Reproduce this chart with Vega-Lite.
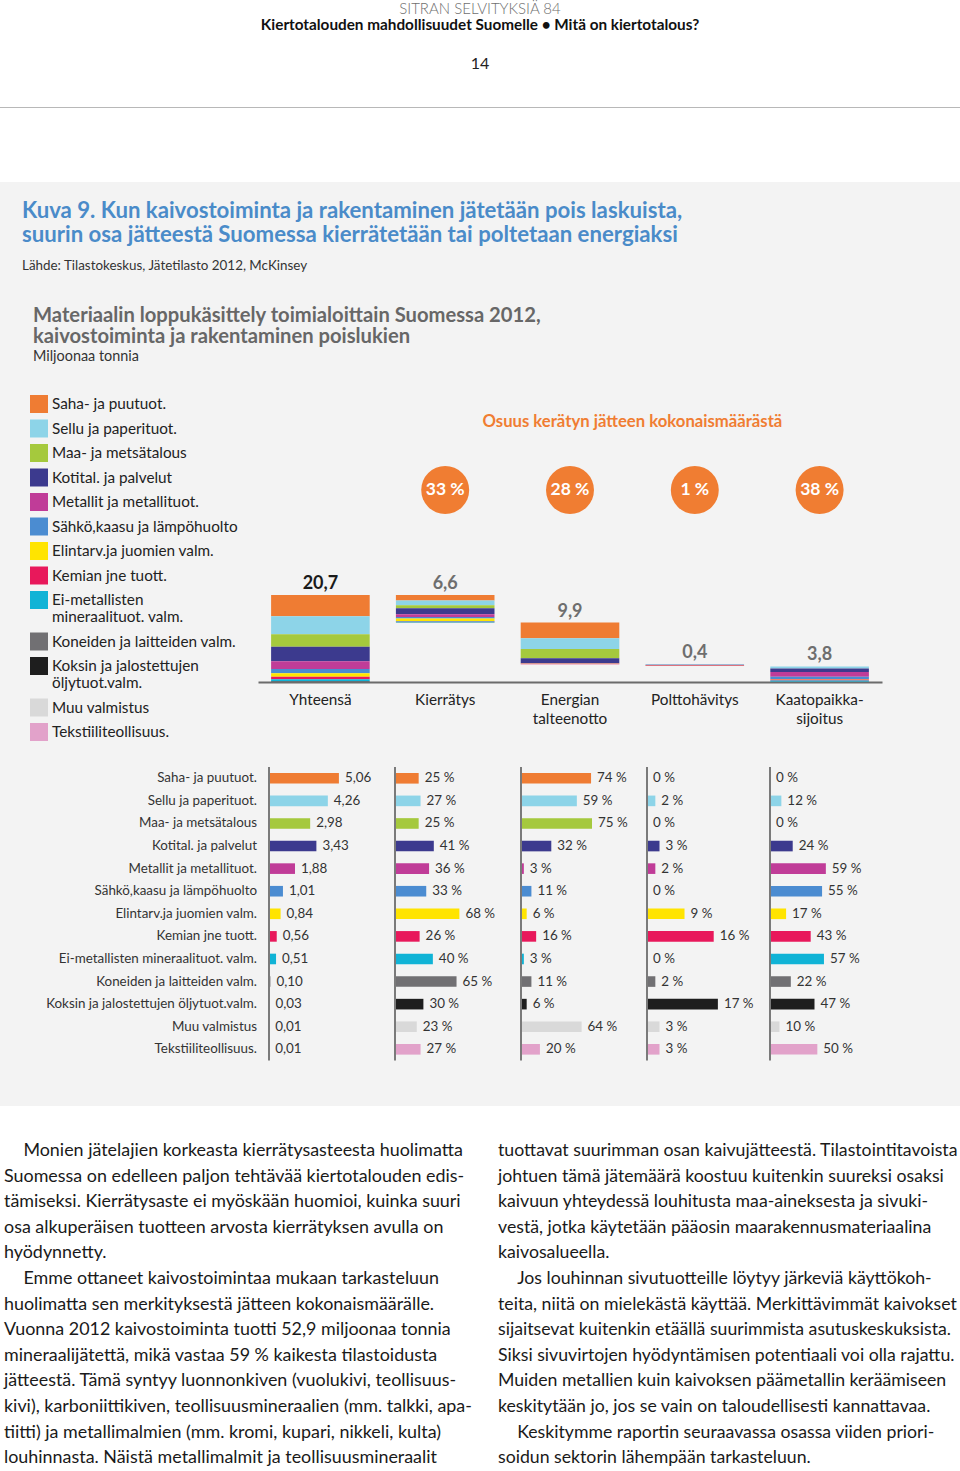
{
  "$schema": "https://vega.github.io/schema/vega-lite/v6.json",
  "background": "#f3f3f3",
  "padding": 0,
  "spacing": 0,
  "bounds": "flush",
  "resolve": {"scale": {"color": "independent"}, "legend": {"color": "independent"}},
  "config": {
    "font": "Lato",
    "view": {"stroke": null},
    "locale": {"number": {"decimal": ",", "thousands": " ", "grouping": [3], "currency": ["", " €"], "percent": " %"}},
    "title": {"font": "Lato"},
    "axis": {"labelFont": "Lato"},
    "legend": {"labelFont": "Lato"}
  },
  "datasets": {
    "teollisuus": [
      {"toimiala": "Saha- ja puutuot.", "yhteensa": 5.06, "kierratys": 0.25, "energia": 0.74, "poltto": 0.0, "kaatopaikka": 0.0},
      {"toimiala": "Sellu ja paperituot.", "yhteensa": 4.26, "kierratys": 0.27, "energia": 0.59, "poltto": 0.02, "kaatopaikka": 0.12},
      {"toimiala": "Maa- ja metsätalous", "yhteensa": 2.98, "kierratys": 0.25, "energia": 0.75, "poltto": 0.0, "kaatopaikka": 0.0},
      {"toimiala": "Kotital. ja palvelut", "yhteensa": 3.43, "kierratys": 0.41, "energia": 0.32, "poltto": 0.03, "kaatopaikka": 0.24},
      {"toimiala": "Metallit ja metallituot.", "yhteensa": 1.88, "kierratys": 0.36, "energia": 0.03, "poltto": 0.02, "kaatopaikka": 0.59},
      {"toimiala": "Sähkö,kaasu ja lämpöhuolto", "yhteensa": 1.01, "kierratys": 0.33, "energia": 0.11, "poltto": 0.0, "kaatopaikka": 0.55},
      {"toimiala": "Elintarv.ja juomien valm.", "yhteensa": 0.84, "kierratys": 0.68, "energia": 0.06, "poltto": 0.09, "kaatopaikka": 0.17},
      {"toimiala": "Kemian jne tuott.", "yhteensa": 0.56, "kierratys": 0.26, "energia": 0.16, "poltto": 0.16, "kaatopaikka": 0.43},
      {"toimiala": "Ei-metallisten mineraalituot. valm.", "yhteensa": 0.51, "kierratys": 0.40, "energia": 0.03, "poltto": 0.0, "kaatopaikka": 0.57},
      {"toimiala": "Koneiden ja laitteiden valm.", "yhteensa": 0.10, "kierratys": 0.65, "energia": 0.11, "poltto": 0.02, "kaatopaikka": 0.22},
      {"toimiala": "Koksin ja jalostettujen öljytuot.valm.", "yhteensa": 0.03, "kierratys": 0.30, "energia": 0.06, "poltto": 0.17, "kaatopaikka": 0.47},
      {"toimiala": "Muu valmistus", "yhteensa": 0.01, "kierratys": 0.23, "energia": 0.64, "poltto": 0.03, "kaatopaikka": 0.10},
      {"toimiala": "Tekstiiliteollisuus.", "yhteensa": 0.01, "kierratys": 0.27, "energia": 0.20, "poltto": 0.03, "kaatopaikka": 0.50}
    ],
    "segmentit": [
      {"vaihe": "Yhteensä", "toimiala": "Saha- ja puutuot.", "maara": 5.06, "nro": 1},
      {"vaihe": "Yhteensä", "toimiala": "Sellu ja paperituot.", "maara": 4.26, "nro": 2},
      {"vaihe": "Yhteensä", "toimiala": "Maa- ja metsätalous", "maara": 2.98, "nro": 3},
      {"vaihe": "Yhteensä", "toimiala": "Kotital. ja palvelut", "maara": 3.43, "nro": 4},
      {"vaihe": "Yhteensä", "toimiala": "Metallit ja metallituot.", "maara": 1.88, "nro": 5},
      {"vaihe": "Yhteensä", "toimiala": "Sähkö,kaasu ja lämpöhuolto", "maara": 1.01, "nro": 6},
      {"vaihe": "Yhteensä", "toimiala": "Elintarv.ja juomien valm.", "maara": 0.84, "nro": 7},
      {"vaihe": "Yhteensä", "toimiala": "Kemian jne tuott.", "maara": 0.56, "nro": 8},
      {"vaihe": "Yhteensä", "toimiala": "Ei-metallisten mineraalituot. valm.", "maara": 0.51, "nro": 9},
      {"vaihe": "Yhteensä", "toimiala": "Koneiden ja laitteiden valm.", "maara": 0.10, "nro": 10},
      {"vaihe": "Yhteensä", "toimiala": "Koksin ja jalostettujen öljytuot.valm.", "maara": 0.03, "nro": 11},
      {"vaihe": "Yhteensä", "toimiala": "Muu valmistus", "maara": 0.01, "nro": 12},
      {"vaihe": "Yhteensä", "toimiala": "Tekstiiliteollisuus.", "maara": 0.01, "nro": 13},
      {"vaihe": "Kierrätys", "toimiala": "pohja", "maara": 14.1, "nro": 14},
      {"vaihe": "Kierrätys", "toimiala": "Saha- ja puutuot.", "maara": 1.265, "nro": 1},
      {"vaihe": "Kierrätys", "toimiala": "Sellu ja paperituot.", "maara": 1.150, "nro": 2},
      {"vaihe": "Kierrätys", "toimiala": "Maa- ja metsätalous", "maara": 0.745, "nro": 3},
      {"vaihe": "Kierrätys", "toimiala": "Kotital. ja palvelut", "maara": 1.406, "nro": 4},
      {"vaihe": "Kierrätys", "toimiala": "Metallit ja metallituot.", "maara": 0.677, "nro": 5},
      {"vaihe": "Kierrätys", "toimiala": "Sähkö,kaasu ja lämpöhuolto", "maara": 0.333, "nro": 6},
      {"vaihe": "Kierrätys", "toimiala": "Elintarv.ja juomien valm.", "maara": 0.571, "nro": 7},
      {"vaihe": "Kierrätys", "toimiala": "Kemian jne tuott.", "maara": 0.146, "nro": 8},
      {"vaihe": "Kierrätys", "toimiala": "Ei-metallisten mineraalituot. valm.", "maara": 0.204, "nro": 9},
      {"vaihe": "Kierrätys", "toimiala": "Koneiden ja laitteiden valm.", "maara": 0.065, "nro": 10},
      {"vaihe": "Kierrätys", "toimiala": "Koksin ja jalostettujen öljytuot.valm.", "maara": 0.009, "nro": 11},
      {"vaihe": "Kierrätys", "toimiala": "Muu valmistus", "maara": 0.002, "nro": 12},
      {"vaihe": "Kierrätys", "toimiala": "Tekstiiliteollisuus.", "maara": 0.003, "nro": 13},
      {"vaihe": "Energian talteenotto", "toimiala": "pohja", "maara": 4.2, "nro": 14},
      {"vaihe": "Energian talteenotto", "toimiala": "Saha- ja puutuot.", "maara": 3.744, "nro": 1},
      {"vaihe": "Energian talteenotto", "toimiala": "Sellu ja paperituot.", "maara": 2.513, "nro": 2},
      {"vaihe": "Energian talteenotto", "toimiala": "Maa- ja metsätalous", "maara": 2.235, "nro": 3},
      {"vaihe": "Energian talteenotto", "toimiala": "Kotital. ja palvelut", "maara": 1.098, "nro": 4},
      {"vaihe": "Energian talteenotto", "toimiala": "Metallit ja metallituot.", "maara": 0.056, "nro": 5},
      {"vaihe": "Energian talteenotto", "toimiala": "Sähkö,kaasu ja lämpöhuolto", "maara": 0.111, "nro": 6},
      {"vaihe": "Energian talteenotto", "toimiala": "Elintarv.ja juomien valm.", "maara": 0.050, "nro": 7},
      {"vaihe": "Energian talteenotto", "toimiala": "Kemian jne tuott.", "maara": 0.090, "nro": 8},
      {"vaihe": "Energian talteenotto", "toimiala": "Ei-metallisten mineraalituot. valm.", "maara": 0.015, "nro": 9},
      {"vaihe": "Energian talteenotto", "toimiala": "Koneiden ja laitteiden valm.", "maara": 0.011, "nro": 10},
      {"vaihe": "Energian talteenotto", "toimiala": "Koksin ja jalostettujen öljytuot.valm.", "maara": 0.002, "nro": 11},
      {"vaihe": "Energian talteenotto", "toimiala": "Muu valmistus", "maara": 0.006, "nro": 12},
      {"vaihe": "Energian talteenotto", "toimiala": "Tekstiiliteollisuus.", "maara": 0.002, "nro": 13},
      {"vaihe": "Polttohävitys", "toimiala": "pohja", "maara": 3.8, "nro": 14},
      {"vaihe": "Polttohävitys", "toimiala": "Sellu ja paperituot.", "maara": 0.085, "nro": 2},
      {"vaihe": "Polttohävitys", "toimiala": "Kotital. ja palvelut", "maara": 0.103, "nro": 4},
      {"vaihe": "Polttohävitys", "toimiala": "Metallit ja metallituot.", "maara": 0.038, "nro": 5},
      {"vaihe": "Polttohävitys", "toimiala": "Elintarv.ja juomien valm.", "maara": 0.076, "nro": 7},
      {"vaihe": "Polttohävitys", "toimiala": "Kemian jne tuott.", "maara": 0.090, "nro": 8},
      {"vaihe": "Polttohävitys", "toimiala": "Koneiden ja laitteiden valm.", "maara": 0.002, "nro": 10},
      {"vaihe": "Polttohävitys", "toimiala": "Koksin ja jalostettujen öljytuot.valm.", "maara": 0.005, "nro": 11},
      {"vaihe": "Kaatopaikka-sijoitus", "toimiala": "Sellu ja paperituot.", "maara": 0.511, "nro": 2},
      {"vaihe": "Kaatopaikka-sijoitus", "toimiala": "Kotital. ja palvelut", "maara": 0.823, "nro": 4},
      {"vaihe": "Kaatopaikka-sijoitus", "toimiala": "Metallit ja metallituot.", "maara": 1.109, "nro": 5},
      {"vaihe": "Kaatopaikka-sijoitus", "toimiala": "Sähkö,kaasu ja lämpöhuolto", "maara": 0.556, "nro": 6},
      {"vaihe": "Kaatopaikka-sijoitus", "toimiala": "Elintarv.ja juomien valm.", "maara": 0.143, "nro": 7},
      {"vaihe": "Kaatopaikka-sijoitus", "toimiala": "Kemian jne tuott.", "maara": 0.241, "nro": 8},
      {"vaihe": "Kaatopaikka-sijoitus", "toimiala": "Ei-metallisten mineraalituot. valm.", "maara": 0.291, "nro": 9},
      {"vaihe": "Kaatopaikka-sijoitus", "toimiala": "Koneiden ja laitteiden valm.", "maara": 0.022, "nro": 10},
      {"vaihe": "Kaatopaikka-sijoitus", "toimiala": "Koksin ja jalostettujen öljytuot.valm.", "maara": 0.014, "nro": 11},
      {"vaihe": "Kaatopaikka-sijoitus", "toimiala": "Muu valmistus", "maara": 0.001, "nro": 12},
      {"vaihe": "Kaatopaikka-sijoitus", "toimiala": "Tekstiiliteollisuus.", "maara": 0.005, "nro": 13}
    ],
    "vaiheet": [
      {"vaihe": "Yhteensä", "yhteensa": 20.7, "huippu": 20.7, "osuus": null},
      {"vaihe": "Kierrätys", "yhteensa": 6.6, "huippu": 20.7, "osuus": 0.33},
      {"vaihe": "Energian talteenotto", "yhteensa": 9.9, "huippu": 14.1, "osuus": 0.28},
      {"vaihe": "Polttohävitys", "yhteensa": 0.4, "huippu": 4.2, "osuus": 0.01},
      {"vaihe": "Kaatopaikka-sijoitus", "yhteensa": 3.8, "huippu": 3.8, "osuus": 0.38}
    ]
  },
  "vconcat": [
    {
      "width": 960, "height": 45,
      "view": {"fill": "#ffffff", "stroke": null},
      "data": {"values": []}, "mark": "rect", "encoding": {},
      "title": {"text": "SITRAN SELVITYKSIÄ 84", "subtitle": "Kiertotalouden mahdollisuudet Suomelle • Mitä on kiertotalous?", "orient": "bottom", "anchor": "middle", "frame": "group", "offset": -43, "fontSize": 15, "fontWeight": 300, "color": "#6f6f6f", "subtitleFontSize": 15.3, "subtitleFontWeight": "bold", "subtitleColor": "#111111", "subtitlePadding": 1}
    },
    {
      "width": 960, "height": 62,
      "view": {"fill": "#ffffff", "stroke": null},
      "data": {"values": []}, "mark": "rect", "encoding": {},
      "title": {"text": "14", "orient": "bottom", "anchor": "middle", "frame": "group", "offset": -51, "fontSize": 16, "fontWeight": "normal", "color": "#222222"}
    },
    {
      "width": 960, "height": 1,
      "view": {"fill": "#b8b8b8", "stroke": null},
      "data": {"values": []}, "mark": "rect", "encoding": {}
    },
    {
      "width": 960, "height": 74,
      "view": {"fill": "#ffffff", "stroke": null},
      "data": {"values": []}, "mark": "rect", "encoding": {}
    },
    {
      "width": 960, "height": 108,
      "data": {"values": []}, "mark": "rect", "encoding": {},
      "title": {"text": ["Kuva 9. Kun kaivostoiminta ja rakentaminen jätetään pois laskuista,", "suurin osa jätteestä Suomessa kierrätetään tai poltetaan energiaksi"], "subtitle": "Lähde: Tilastokeskus, Jätetilasto 2012, McKinsey", "orient": "bottom", "anchor": "start", "frame": "group", "offset": -90, "dx": 22, "fontSize": 22.2, "fontWeight": "bold", "color": "#4a8bc9", "lineHeight": 24.3, "subtitleFontSize": 13.4, "subtitleColor": "#333333", "subtitlePadding": 12}
    },
    {
      "width": 960, "height": 75,
      "data": {"values": []}, "mark": "rect", "encoding": {},
      "title": {"text": ["Materiaalin loppukäsittely toimialoittain Suomessa 2012,", "kaivostoiminta ja rakentaminen poislukien"], "subtitle": "Miljoonaa tonnia", "orient": "bottom", "anchor": "start", "frame": "group", "offset": -59, "dx": 33, "fontSize": 20.2, "fontWeight": "bold", "color": "#676767", "lineHeight": 21, "subtitleFontSize": 14.4, "subtitleColor": "#333333", "subtitlePadding": 3}
    },
    {
      "width": 960, "height": 317,
      "encoding": {
        "x": {"field": "vaihe", "type": "nominal",
          "scale": {"domain": ["Yhteensä", "Kierrätys", "Energian talteenotto", "Polttohävitys", "Kaatopaikka-sijoitus"], "range": [258, 882], "paddingInner": 0, "paddingOuter": 0},
          "axis": {"title": null, "ticks": false, "domainColor": "#6b6b6b", "domainWidth": 2, "labelFontSize": 15.3, "labelColor": "#222222", "labelPadding": 10, "labelAngle": 0, "labelLineHeight": 19,
            "labelExpr": "datum.label === 'Energian talteenotto' ? ['Energian', 'talteenotto'] : datum.label === 'Kaatopaikka-sijoitus' ? ['Kaatopaikka-', 'sijoitus'] : datum.label"}}
      },
      "layer": [
        {
          "data": {"name": "segmentit"},
          "mark": {"type": "bar", "width": {"band": 0.79}},
          "encoding": {
            "y": {"field": "maara", "type": "quantitative", "stack": "zero", "scale": {"domain": [0, 75.4], "nice": false}, "axis": null},
            "color": {
              "condition": {"test": "datum.toimiala === 'pohja'", "value": "transparent"},
              "field": "toimiala", "type": "nominal",
              "scale": {
                "domain": ["Saha- ja puutuot.", "Sellu ja paperituot.", "Maa- ja metsätalous", "Kotital. ja palvelut", "Metallit ja metallituot.", "Sähkö,kaasu ja lämpöhuolto", "Elintarv.ja juomien valm.", "Kemian jne tuott.", "Ei-metallisten mineraalituot. valm.", "Koneiden ja laitteiden valm.", "Koksin ja jalostettujen öljytuot.valm.", "Muu valmistus", "Tekstiiliteollisuus."],
                "range": ["#ef7c33", "#8dd4e8", "#a5c93d", "#3c3a8e", "#c03c98", "#4b8cd1", "#ffe400", "#e8185b", "#10b3d6", "#717073", "#1e1e1e", "#d9d9d9", "#e2a2ca"]
              },
              "legend": {
                "orient": "top-left", "direction": "vertical", "offset": 30, "title": null, "symbolType": "square", "symbolSize": 324, "symbolStrokeWidth": 0, "symbolOpacity": 1,
                "labelFontSize": 15.3, "labelColor": "#222222", "labelOffset": 4, "labelLimit": 320, "rowPadding": 6.5,
                "values": ["Saha- ja puutuot.", "Sellu ja paperituot.", "Maa- ja metsätalous", "Kotital. ja palvelut", "Metallit ja metallituot.", "Sähkö,kaasu ja lämpöhuolto", "Elintarv.ja juomien valm.", "Kemian jne tuott.", "Ei-metallisten mineraalituot. valm.", "Koneiden ja laitteiden valm.", "Koksin ja jalostettujen öljytuot.valm.", "Muu valmistus", "Tekstiiliteollisuus."],
                "labelExpr": "datum.label === 'Ei-metallisten mineraalituot. valm.' ? ['Ei-metallisten', 'mineraalituot. valm.'] : datum.label === 'Koksin ja jalostettujen öljytuot.valm.' ? ['Koksin ja jalostettujen', 'öljytuot.valm.'] : datum.label"
              }
            },
            "order": {"field": "nro", "type": "quantitative", "sort": "descending"}
          }
        },
        {
          "data": {"name": "vaiheet"},
          "mark": {"type": "text", "baseline": "alphabetic", "dy": -6, "fontSize": 18, "fontWeight": "bold"},
          "encoding": {
            "y": {"field": "huippu", "type": "quantitative"},
            "text": {"field": "yhteensa", "type": "quantitative", "format": ".1f"},
            "color": {"condition": {"test": "datum.vaihe === 'Yhteensä'", "value": "#1a1a1a"}, "value": "#6e6e6e"}
          }
        },
        {
          "data": {"name": "vaiheet"},
          "transform": [{"filter": "isValid(datum.osuus)"}],
          "mark": {"type": "circle", "size": 2300, "opacity": 1, "color": "#f07d32"},
          "encoding": {"y": {"datum": 45.67, "type": "quantitative"}}
        },
        {
          "data": {"name": "vaiheet"},
          "transform": [{"filter": "isValid(datum.osuus)"}],
          "mark": {"type": "text", "color": "#ffffff", "fontWeight": "bold", "fontSize": 17.5},
          "encoding": {
            "y": {"datum": 45.67, "type": "quantitative"},
            "text": {"field": "osuus", "type": "quantitative", "format": ".0%"}
          }
        },
        {
          "data": {"values": [{"otsikko": "Osuus kerätyn jätteen kokonaismäärästä"}]},
          "mark": {"type": "text", "color": "#f07d32", "fontWeight": "bold", "fontSize": 16.7},
          "encoding": {
            "x": {"datum": "Energian talteenotto", "type": "nominal", "bandPosition": 1},
            "y": {"datum": 61.85, "type": "quantitative"},
            "text": {"field": "otsikko", "type": "nominal"}
          }
        }
      ]
    },
    {"width": 960, "height": 85, "data": {"values": []}, "mark": "rect", "encoding": {}},
    {
      "width": 960, "height": 293.6,
      "data": {"name": "teollisuus"},
      "transform": [{"joinaggregate": [{"op": "min", "field": "poltto", "as": "alku"}]}],
      "resolve": {"scale": {"x": "independent"}, "axis": {"x": "independent"}},
      "layer": [
        {"mark": {"type": "bar"}, "encoding": {
          "x": {"field": "yhteensa", "type": "quantitative", "scale": {"domain": [0, 8.36], "range": [269, 384.5], "nice": false}, "axis": null},
          "y": {"field": "toimiala", "type": "nominal", "sort": null, "scale": {"paddingInner": 0.53, "paddingOuter": 0.265}, "axis": null},
          "color": {"field": "toimiala", "type": "nominal", "legend": null,
            "scale": {"domain": ["Saha- ja puutuot.", "Sellu ja paperituot.", "Maa- ja metsätalous", "Kotital. ja palvelut", "Metallit ja metallituot.", "Sähkö,kaasu ja lämpöhuolto", "Elintarv.ja juomien valm.", "Kemian jne tuott.", "Ei-metallisten mineraalituot. valm.", "Koneiden ja laitteiden valm.", "Koksin ja jalostettujen öljytuot.valm.", "Muu valmistus", "Tekstiiliteollisuus."],
              "range": ["#ef7c33", "#8dd4e8", "#a5c93d", "#3c3a8e", "#c03c98", "#4b8cd1", "#ffe400", "#e8185b", "#10b3d6", "#717073", "#1e1e1e", "#d9d9d9", "#e2a2ca"]}}}},
        {"mark": {"type": "text", "align": "right", "dx": -12, "fontSize": 13.4, "color": "#333333"}, "encoding": {
          "x": {"field": "alku", "type": "quantitative", "scale": {"domain": [0, 8.36], "range": [269, 384.5], "nice": false}, "axis": null},
          "y": {"field": "toimiala", "type": "nominal", "sort": null, "axis": null},
          "text": {"field": "toimiala", "type": "nominal"}}},
        {"mark": {"type": "text", "align": "left", "dx": 6, "fontSize": 13.4, "color": "#333333"}, "encoding": {
          "x": {"field": "yhteensa", "type": "quantitative", "scale": {"domain": [0, 8.36], "range": [269, 384.5], "nice": false}, "axis": null},
          "y": {"field": "toimiala", "type": "nominal", "sort": null, "axis": null},
          "text": {"field": "yhteensa", "type": "quantitative", "format": ".2f"}}},
        {"mark": {"type": "bar"}, "encoding": {
          "x": {"field": "kierratys", "type": "quantitative", "scale": {"domain": [0, 1.22], "range": [395, 510.5], "nice": false}, "axis": null},
          "y": {"field": "toimiala", "type": "nominal", "sort": null, "axis": null},
          "color": {"field": "toimiala", "type": "nominal", "legend": null}}},
        {"mark": {"type": "text", "align": "left", "dx": 6, "fontSize": 13.4, "color": "#333333"}, "encoding": {
          "x": {"field": "kierratys", "type": "quantitative", "scale": {"domain": [0, 1.22], "range": [395, 510.5], "nice": false}, "axis": null},
          "y": {"field": "toimiala", "type": "nominal", "sort": null, "axis": null},
          "text": {"field": "kierratys", "type": "quantitative", "format": ".0%"}}},
        {"mark": {"type": "bar"}, "encoding": {
          "x": {"field": "energia", "type": "quantitative", "scale": {"domain": [0, 1.22], "range": [521, 636.5], "nice": false}, "axis": null},
          "y": {"field": "toimiala", "type": "nominal", "sort": null, "axis": null},
          "color": {"field": "toimiala", "type": "nominal", "legend": null}}},
        {"mark": {"type": "text", "align": "left", "dx": 6, "fontSize": 13.4, "color": "#333333"}, "encoding": {
          "x": {"field": "energia", "type": "quantitative", "scale": {"domain": [0, 1.22], "range": [521, 636.5], "nice": false}, "axis": null},
          "y": {"field": "toimiala", "type": "nominal", "sort": null, "axis": null},
          "text": {"field": "energia", "type": "quantitative", "format": ".0%"}}},
        {"mark": {"type": "bar"}, "encoding": {
          "x": {"field": "poltto", "type": "quantitative", "scale": {"domain": [0, 0.277], "range": [647, 762.5], "nice": false}, "axis": null},
          "y": {"field": "toimiala", "type": "nominal", "sort": null, "axis": null},
          "color": {"field": "toimiala", "type": "nominal", "legend": null}}},
        {"mark": {"type": "text", "align": "left", "dx": 6, "fontSize": 13.4, "color": "#333333"}, "encoding": {
          "x": {"field": "poltto", "type": "quantitative", "scale": {"domain": [0, 0.277], "range": [647, 762.5], "nice": false}, "axis": null},
          "y": {"field": "toimiala", "type": "nominal", "sort": null, "axis": null},
          "text": {"field": "poltto", "type": "quantitative", "format": ".0%"}}},
        {"mark": {"type": "bar"}, "encoding": {
          "x": {"field": "kaatopaikka", "type": "quantitative", "scale": {"domain": [0, 1.22], "range": [770, 885.5], "nice": false}, "axis": null},
          "y": {"field": "toimiala", "type": "nominal", "sort": null, "axis": null},
          "color": {"field": "toimiala", "type": "nominal", "legend": null}}},
        {"mark": {"type": "text", "align": "left", "dx": 6, "fontSize": 13.4, "color": "#333333"}, "encoding": {
          "x": {"field": "kaatopaikka", "type": "quantitative", "scale": {"domain": [0, 1.22], "range": [770, 885.5], "nice": false}, "axis": null},
          "y": {"field": "toimiala", "type": "nominal", "sort": null, "axis": null},
          "text": {"field": "kaatopaikka", "type": "quantitative", "format": ".0%"}}},
        {"mark": {"type": "rule", "color": "#7a7a7a", "strokeWidth": 2}, "encoding": {
          "x": {"field": "alku", "type": "quantitative", "aggregate": "min", "scale": {"domain": [0, 8.36], "range": [269, 384.5], "nice": false}, "axis": null}}},
        {"mark": {"type": "rule", "color": "#7a7a7a", "strokeWidth": 2}, "encoding": {
          "x": {"field": "alku", "type": "quantitative", "aggregate": "min", "scale": {"domain": [0, 1.22], "range": [395, 510.5], "nice": false}, "axis": null}}},
        {"mark": {"type": "rule", "color": "#7a7a7a", "strokeWidth": 2}, "encoding": {
          "x": {"field": "alku", "type": "quantitative", "aggregate": "min", "scale": {"domain": [0, 1.22], "range": [521, 636.5], "nice": false}, "axis": null}}},
        {"mark": {"type": "rule", "color": "#7a7a7a", "strokeWidth": 2}, "encoding": {
          "x": {"field": "alku", "type": "quantitative", "aggregate": "min", "scale": {"domain": [0, 0.277], "range": [647, 762.5], "nice": false}, "axis": null}}},
        {"mark": {"type": "rule", "color": "#7a7a7a", "strokeWidth": 2}, "encoding": {
          "x": {"field": "alku", "type": "quantitative", "aggregate": "min", "scale": {"domain": [0, 1.22], "range": [770, 885.5], "nice": false}, "axis": null}}}
      ]
    },
    {"width": 960, "height": 44.4, "data": {"values": []}, "mark": "rect", "encoding": {}},
    {
      "width": 960, "height": 365,
      "view": {"fill": "#ffffff", "stroke": null},
      "data": {"values": []}, "mark": "rect", "encoding": {},
      "title": {"text": [
        "tuottavat suurimman osan kaivujätteestä. Tilastointitavoista",
        "johtuen tämä jätemäärä koostuu kuitenkin suureksi osaksi",
        "kaivuun yhteydessä louhitusta maa-aineksesta ja sivuki-",
        "vestä, jotka käytetään pääosin maarakennusmateriaalina",
        "kaivosalueella.",
        "\u200b\u2003\u2004Jos louhinnan sivutuotteille löytyy järkeviä käyttökoh-",
        "teita, niitä on mielekästä käyttää. Merkittävimmät kaivokset",
        "sijaitsevat kuitenkin etäällä suurimmista asutuskeskuksista.",
        "Siksi sivuvirtojen hyödyntämisen potentiaali voi olla rajattu.",
        "Muiden metallien kuin kaivoksen päämetallin keräämiseen",
        "keskitytään jo, jos se vain on taloudellisesti kannattavaa.",
        "\u200b\u2003\u2004Keskitymme raportin seuraavassa osassa viiden priori-",
        "soidun sektorin lähempään tarkasteluun."
      ], "orient": "bottom", "anchor": "start", "frame": "group", "offset": -329, "dx": 498, "fontSize": 17.7, "fontWeight": "normal", "color": "#1a1a1a", "lineHeight": 25.6}
    },
    {
      "width": 960, "height": 1,
      "view": {"fill": "#ffffff", "stroke": null},
      "data": {"values": []}, "mark": "rect", "encoding": {},
      "title": {"text": [
        "\u200b\u2003\u2004Monien jätelajien korkeasta kierrätysasteesta huolimatta",
        "Suomessa on edelleen paljon tehtävää kiertotalouden edis-",
        "tämiseksi. Kierrätysaste ei myöskään huomioi, kuinka suuri",
        "osa alkuperäisen tuotteen arvosta kierrätyksen avulla on",
        "hyödynnetty.",
        "\u200b\u2003\u2004Emme ottaneet kaivostoimintaa mukaan tarkasteluun",
        "huolimatta sen merkityksestä jätteen kokonaismäärälle.",
        "Vuonna 2012 kaivostoiminta tuotti 52,9 miljoonaa tonnia",
        "mineraalijätettä, mikä vastaa 59 % kaikesta tilastoidusta",
        "jätteestä. Tämä syntyy luonnonkiven (vuolukivi, teollisuus-",
        "kivi), karboniittikiven, teollisuusmineraalien (mm. talkki, apa-",
        "tiitti) ja metallimalmien (mm. kromi, kupari, nikkeli, kulta)",
        "louhinnasta. Näistä metallimalmit ja teollisuusmineraalit"
      ], "orient": "bottom", "anchor": "start", "frame": "group", "offset": -330, "dx": 4, "fontSize": 17.9, "fontWeight": "normal", "color": "#1a1a1a", "lineHeight": 25.6}
    }
  ]
}
